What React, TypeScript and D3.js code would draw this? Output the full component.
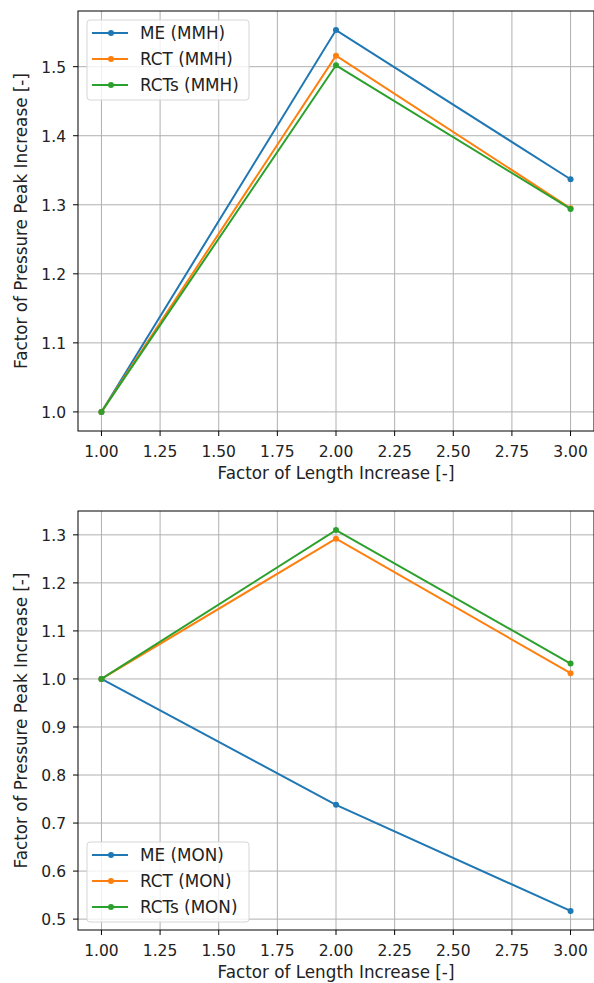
import React from "react";
import * as d3 from "d3";

// x values shared by both panels
const lengthFactors = [1.0, 2.0, 3.0];
const xTicks = [1.0, 1.25, 1.5, 1.75, 2.0, 2.25, 2.5, 2.75, 3.0];

const seriesNames = ["ME", "RCT", "RCTs"];
const colors = ["#1f77b4", "#ff7f0e", "#2ca02c"];

// panel 1: MMH
const meMMH = [1.0, 1.553, 1.337];
const rctMMH = [1.0, 1.516, 1.295];
const rctsMMH = [1.0, 1.502, 1.294];
const yTicksMMH = [1.0, 1.1, 1.2, 1.3, 1.4, 1.5];

// panel 2: MON
const meMON = [1.0, 0.738, 0.517];
const rctMON = [1.0, 1.292, 1.012];
const rctsMON = [1.0, 1.31, 1.032];
const yTicksMON = [0.5, 0.6, 0.7, 0.8, 0.9, 1.0, 1.1, 1.2, 1.3];

const font = "'DejaVu Sans', sans-serif";
const tickFs = 15.5;
const labelFs = 16.8;

function Panel({ top, bottom, series, tag, yTicks, legendY }) {
  const left = 78, right = 594;
  // matplotlib-like 5% margins
  const xExt = d3.extent(lengthFactors);
  const xPad = (xExt[1] - xExt[0]) * 0.05;
  const x = d3.scaleLinear().domain([xExt[0] - xPad, xExt[1] + xPad]).range([left, right]);
  const all = series.flat();
  const yExt = d3.extent(all);
  const yPad = (yExt[1] - yExt[0]) * 0.05;
  const y = d3.scaleLinear().domain([yExt[0] - yPad, yExt[1] + yPad]).range([bottom, top]);
  const line = d3.line().x((d, i) => x(lengthFactors[i])).y(d => y(d));

  return (
    <g>
      {/* grid */}
      {xTicks.map(t => (
        <line key={"gx" + t} x1={x(t)} x2={x(t)} y1={top} y2={bottom} stroke="#b0b0b0" strokeWidth={1} />
      ))}
      {yTicks.map(t => (
        <line key={"gy" + t} x1={left} x2={right} y1={y(t)} y2={y(t)} stroke="#b0b0b0" strokeWidth={1} />
      ))}
      {/* lines */}
      {series.map((s, i) => (
        <g key={"s" + i}>
          <path d={line(s)} fill="none" stroke={colors[i]} strokeWidth={2} />
          {s.map((v, j) => (
            <circle key={j} cx={x(lengthFactors[j])} cy={y(v)} r={3} fill={colors[i]} />
          ))}
        </g>
      ))}
      {/* spines */}
      <rect x={left} y={top} width={right - left} height={bottom - top} fill="none" stroke="#000" strokeWidth={1} />
      {/* ticks */}
      {xTicks.map(t => (
        <g key={"tx" + t}>
          <line x1={x(t)} x2={x(t)} y1={bottom} y2={bottom + 5} stroke="#000" />
          <text x={x(t)} y={bottom + 26} textAnchor="middle" fontSize={tickFs} fontFamily={font} fill="#222">{t.toFixed(2)}</text>
        </g>
      ))}
      {yTicks.map(t => (
        <g key={"ty" + t}>
          <line x1={left - 5} x2={left} y1={y(t)} y2={y(t)} stroke="#000" />
          <text x={left - 12} y={y(t) + 6} textAnchor="end" fontSize={tickFs} fontFamily={font} fill="#222">{t.toFixed(1)}</text>
        </g>
      ))}
      <text x={(left + right) / 2} y={bottom + 48} textAnchor="middle" fontSize={labelFs} fontFamily={font} fill="#222">Factor of Length Increase [-]</text>
      <text transform={`translate(27,${(top + bottom) / 2}) rotate(-90)`} textAnchor="middle" fontSize={labelFs} fontFamily={font} fill="#222">Factor of Pressure Peak Increase [-]</text>
      {/* legend */}
      <rect x={87} y={legendY} width={162} height={80} rx={3} fill="#fff" fillOpacity={0.8} stroke="#d6d6d6" />
      {seriesNames.map((n, i) => (
        <g key={"l" + n}>
          <line x1={92} x2={128} y1={legendY + 13 + i * 26} y2={legendY + 13 + i * 26} stroke={colors[i]} strokeWidth={2} />
          <circle cx={111} cy={legendY + 13 + i * 26} r={3} fill={colors[i]} />
          <text x={140} y={legendY + 19 + i * 26} fontSize={labelFs} fontFamily={font} fill="#222">{`${n} (${tag})`}</text>
        </g>
      ))}
    </g>
  );
}

export default function App() {
  return (
    <svg width={594} height={983} style={{ position: "absolute", left: 0, top: 0, background: "#fff" }}>
      <Panel top={11} bottom={431} series={[meMMH, rctMMH, rctsMMH]} tag="MMH" yTicks={yTicksMMH} legendY={20} />
      <Panel top={511} bottom={930} series={[meMON, rctMON, rctsMON]} tag="MON" yTicks={yTicksMON} legendY={842} />
    </svg>
  );
}
